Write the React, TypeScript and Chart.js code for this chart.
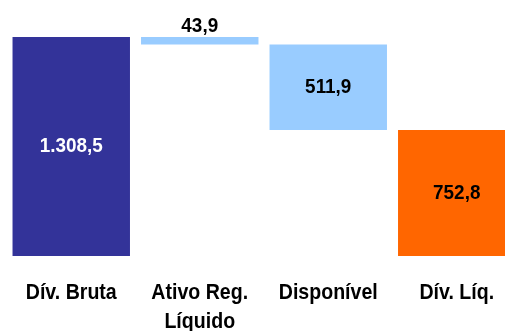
import React, { useEffect, useRef } from "react";
import { Chart, registerables } from "chart.js";

Chart.register(...registerables);

const categories: string[][] = [["Dív. Bruta"], ["Ativo Reg.", "Líquido"], ["Disponível"], ["Dív. Líq."]];
const values = [1308.5, 43.9, 511.9, 752.8];
const kinds = ["total", "minus", "minus", "total"];
const valueLabels = ["1.308,5", "43,9", "511,9", "752,8"];
const colors = ["#333399", "#99CCFF", "#99CCFF", "#FF6600"];
const labelColors = ["#FFFFFF", "#000000", "#000000", "#000000"];
const labelOutside = [false, true, false, false];

function buildRanges(): [number, number][] {
  let level = 0;
  return values.map((v, i) => {
    if (kinds[i] === "total") {
      level = v;
      return [0, v] as [number, number];
    }
    const top = level;
    level = level - v;
    return [level, top] as [number, number];
  });
}

const FONT = "'Liberation Sans', Arial, sans-serif";

const labelsPlugin = {
  id: "wfLabels",
  afterDatasetsDraw(chart: any) {
    const ctx = chart.ctx;
    const meta = chart.getDatasetMeta(0);
    const xScale = chart.scales.x;
    const area = chart.chartArea;
    ctx.save();
    ctx.font = `bold 21px ${FONT}`;
    ctx.textAlign = "center";
    meta.data.forEach((bar: any, i: number) => {
      const { x, y, base } = bar.getProps(["x", "y", "base"], true);
      const top = Math.min(y, base);
      const bottom = Math.max(y, base);
      ctx.fillStyle = labelColors[i];
      ctx.save();
      if (labelOutside[i]) {
        ctx.textBaseline = "alphabetic";
        ctx.translate(x, top - 5);
      } else {
        ctx.textBaseline = "middle";
        ctx.translate(x, (top + bottom) / 2);
      }
      ctx.scale(0.9, 1);
      ctx.fillText(valueLabels[i], 0, 0);
      ctx.restore();
    });
    // category labels
    ctx.font = `bold 22px ${FONT}`;
    ctx.fillStyle = "#000000";
    ctx.textBaseline = "alphabetic";
    const sx = 0.89;
    categories.forEach((lines, i) => {
      const cx = xScale.getPixelForValue(i);
      lines.forEach((line, j) => {
        ctx.save();
        ctx.translate(cx, area.bottom + 43 + j * 29);
        ctx.scale(sx, 1);
        ctx.fillText(line, 0, 0);
        ctx.restore();
      });
    });
    ctx.restore();
  },
};

export default function App() {
  const ref = useRef<HTMLCanvasElement | null>(null);
  useEffect(() => {
    if (!ref.current) return;
    const chart = new Chart(ref.current, {
      type: "bar",
      data: {
        labels: categories.map((l) => l.join(" ")),
        datasets: [
          {
            data: buildRanges() as any,
            backgroundColor: colors,
            borderWidth: 0,
            barPercentage: 0.914,
            categoryPercentage: 1,
          },
        ],
      },
      options: {
        animation: false,
        responsive: true,
        maintainAspectRatio: false,
        layout: { padding: { left: 7, right: 0, top: 0, bottom: 75 } },
        plugins: { legend: { display: false }, tooltip: { enabled: false } },
        scales: {
          y: { display: false, min: 0, max: 1530 },
          x: { display: false },
        },
      },
      plugins: [labelsPlugin],
    });
    return () => chart.destroy();
  }, []);
  return (
    <div style={{ position: "fixed", left: 0, top: 0, width: 505, height: 331, overflow: "hidden", background: "#fff" }}>
      <div style={{ position: "absolute", left: 0, top: 0, width: 521, height: 331 }}>
        <canvas ref={ref} />
      </div>
    </div>
  );
}
